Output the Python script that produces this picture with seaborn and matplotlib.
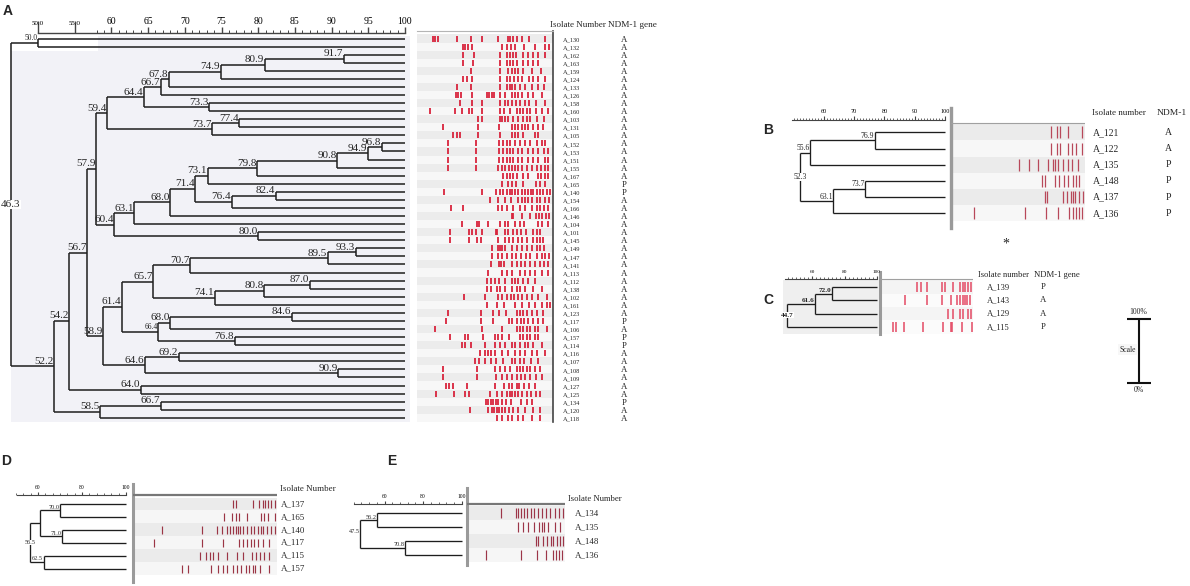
import numpy as np
import pandas as pd
import matplotlib
matplotlib.use("Agg")
import matplotlib.pyplot as plt
from matplotlib.patches import Rectangle
import seaborn as sns

# ---------------- DATA ----------------
# panel A isolates (top to bottom) and NDM-1 gene status
A_ISOLATES = ["A_130", "A_132", "A_162", "A_163", "A_159", "A_124", "A_133", "A_126",
              "A_158", "A_160", "A_103", "A_131", "A_105", "A_152", "A_153", "A_151",
              "A_155", "A_167", "A_165", "A_140", "A_154", "A_166", "A_146", "A_104",
              "A_101", "A_145", "A_149", "A_147", "A_141", "A_113", "A_112", "A_138",
              "A_102", "A_161", "A_123", "A_117", "A_106", "A_157", "A_114", "A_116",
              "A_107", "A_108", "A_109", "A_127", "A_125", "A_134", "A_120", "A_118"]
A_NDM = ["A"] * 18 + ["P", "P"] + ["A"] * 15 + ["P", "A", "P", "P"] + ["A"] * 6 + ["P", "A", "A"]

# dendrogram merges: (node, child, child, % similarity); ints are leaf rows
A_NODES = [
    ("a1", 0, 1, 50.0), ("a2", 2, 3, 91.7), ("a3", "a2", 4, 80.9), ("a4", "a3", 5, 74.9),
    ("a5", "a4", 6, 67.8), ("a6", "a5", 7, 66.7), ("a7", 8, 9, 73.3), ("a8", "a6", "a7", 64.4),
    ("a9", 10, 11, 77.4), ("a10", "a9", 12, 73.7), ("a11", "a8", "a10", 59.4),
    ("a12", 13, 14, 96.8), ("a13", "a12", 15, 94.9), ("a14", "a13", 16, 90.8),
    ("a15", "a14", 17, 79.8), ("a16", "a15", 18, 73.1), ("a17", 19, 20, 82.4),
    ("a18", "a17", 21, 76.4), ("a19", "a16", "a18", 71.4), ("a20", "a19", 22, 68.0),
    ("a21", "a20", 23, 63.1), ("a22", 24, 25, 80.0), ("a23", "a21", "a22", 60.4),
    ("a24", "a11", "a23", 57.9), ("a25", 26, 27, 93.3), ("a26", "a25", 28, 89.5),
    ("a27", "a26", 29, 70.7), ("a28", 30, 31, 87.0), ("a29", "a28", 32, 80.8),
    ("a30", "a29", 33, 74.1), ("a31", "a27", "a30", 65.7), ("a32", 34, 35, 84.6),
    ("a33", "a32", 36, 68.0), ("a34", 37, 38, 76.8), ("a35", "a33", "a34", 66.4),
    ("a36", "a31", "a35", 61.4), ("a37", 39, 40, 69.2), ("a38", 41, 42, 90.9),
    ("a39", "a37", "a38", 64.6), ("a40", "a36", "a39", 58.9), ("a41", "a24", "a40", 56.7),
    ("a42", 43, 44, 64.0), ("a43", "a41", "a42", 54.2), ("a44", 45, 46, 66.7),
    ("a45", "a44", 47, 58.5), ("a46", "a43", "a45", 52.2), ("a47", "a1", "a46", 46.3),
]

# band positions per lane (gel units, left -> right)
A_BANDS = [
    [83, 90, 98, 157, 197, 232, 280, 308, 316, 324, 335, 352, 372, 420],
    [173, 180, 188, 200, 290, 305, 318, 330, 357, 390, 420, 432],
    [175, 208, 285, 305, 315, 325, 332, 355, 370, 385, 400, 420],
    [175, 205, 285, 305, 315, 325, 335, 355, 370, 385, 400],
    [197, 285, 310, 320, 330, 340, 355, 380, 408],
    [175, 185, 200, 285, 305, 315, 328, 340, 352, 373, 385, 398, 420],
    [157, 197, 285, 305, 315, 322, 330, 345, 360, 380, 398, 418],
    [153, 160, 167, 200, 245, 252, 260, 267, 285, 300, 320, 330, 340, 352, 370, 385, 410],
    [165, 200, 230, 285, 300, 310, 320, 333, 345, 360, 372, 392, 420],
    [75, 150, 170, 192, 200, 232, 285, 298, 315, 335, 345, 355, 365, 375, 392, 410, 430],
    [220, 230, 285, 292, 300, 310, 325, 340, 355, 365, 375, 395, 418],
    [113, 220, 283, 320, 330, 340, 350, 360, 370, 385, 400, 415],
    [145, 155, 165, 220, 285, 320, 330, 340, 355, 390, 400],
    [130, 212, 283, 295, 305, 315, 330, 345, 360, 375, 395, 410, 420],
    [130, 212, 283, 295, 305, 315, 325, 340, 352, 370, 385, 400, 418, 428],
    [130, 212, 283, 295, 305, 315, 325, 340, 352, 370, 385, 400, 420, 430],
    [130, 212, 280, 290, 300, 312, 320, 330, 340, 352, 365, 380, 395, 408, 420, 430],
    [295, 305, 315, 325, 335, 355, 370, 398, 408, 420, 430],
    [290, 310, 320, 332, 355, 392, 405, 420],
    [117, 232, 272, 285, 295, 305, 315, 322, 330, 340, 350, 360, 370, 378, 385, 395, 405, 415, 425, 435],
    [255, 280, 300, 318, 340, 350, 360, 370, 380, 395, 405, 420, 432],
    [138, 175, 280, 290, 305, 325, 345, 360, 380, 395, 405, 418, 428],
    [320, 325, 350, 375, 392, 402, 412, 422, 432],
    [172, 215, 222, 250, 285, 300, 310, 330, 345, 358, 400, 410, 428],
    [135, 192, 202, 212, 230, 272, 275, 300, 310, 325, 335, 348, 362, 385, 395, 405],
    [135, 192, 215, 228, 278, 300, 313, 325, 340, 350, 365, 385, 395, 405, 415],
    [260, 280, 285, 292, 300, 320, 335, 350, 365, 380, 395, 405, 418],
    [260, 280, 292, 305, 320, 333, 348, 362, 375, 395, 410, 420, 432],
    [258, 282, 288, 298, 320, 335, 348, 360, 375, 390, 405, 418, 430],
    [250, 290, 305, 322, 345, 360, 375, 390, 410, 430],
    [245, 258, 270, 283, 300, 322, 330, 340, 355, 370, 390],
    [245, 258, 275, 285, 300, 320, 335, 345, 360, 385, 410],
    [177, 240, 278, 290, 305, 318, 328, 340, 350, 365, 382, 400, 425],
    [245, 275, 298, 330, 350, 372, 390, 410, 425, 435],
    [128, 228, 265, 283, 303, 335, 345, 355, 365, 380, 395, 415],
    [122, 228, 265, 312, 322, 335, 348, 358, 370, 385, 400, 415],
    [90, 230, 292, 335, 345, 355, 365, 375, 390, 400, 425],
    [135, 180, 190, 235, 270, 280, 292, 312, 345, 355, 365, 375, 390, 400],
    [170, 180, 197, 240, 270, 285, 300, 320, 330, 345, 360, 370, 385, 410],
    [225, 240, 248, 258, 270, 290, 308, 330, 345, 360, 380, 395, 420],
    [210, 222, 240, 258, 272, 295, 320, 330, 345, 358, 378, 400],
    [115, 215, 270, 285, 300, 315, 335, 345, 355, 365, 375, 390, 405],
    [115, 215, 272, 292, 305, 320, 335, 348, 360, 375, 392, 410],
    [122, 133, 145, 185, 270, 298, 312, 320, 335, 342, 358, 372, 390],
    [92, 148, 180, 192, 255, 275, 290, 305, 315, 322, 330, 340, 350, 365, 378, 392, 405],
    [242, 250, 258, 265, 272, 280, 292, 302, 318, 348, 365, 380],
    [195, 248, 260, 268, 275, 282, 290, 300, 312, 325, 340, 360, 385, 405],
    [275, 290, 308, 322, 338, 355, 380, 405],
]

B_ISOLATES = ["A_121", "A_122", "A_135", "A_148", "A_137", "A_136"]
B_NDM = ["A", "A", "P", "P", "P", "P"]
B_NODES = [("b1", 0, 1, 76.9), ("b2", "b1", 2, 55.6), ("b3", 3, 4, 73.7),
           ("b4", "b3", 5, 63.1), ("b5", "b2", "b4", 52.3)]
B_BANDS = [
    [783, 800, 810, 835, 876],
    [783, 800, 810, 833, 845, 858, 876],
    [688, 717, 745, 773, 788, 795, 803, 820, 835, 845, 865],
    [757, 765, 795, 808, 822, 835, 848, 858, 868],
    [765, 772, 818, 830, 842, 848, 855, 868, 878],
    [553, 705, 768, 805, 838, 848, 858, 868, 876],
]

C_ISOLATES = ["A_139", "A_143", "A_129", "A_115"]
C_NDM = ["P", "A", "A", "P"]
C_NODES = [("c1", 0, 1, 72.0), ("c2", "c1", 2, 61.6), ("c3", "c2", 3, 44.7)]
C_BANDS = [
    [410, 422, 440, 485, 495, 518, 540, 548, 555, 565, 572],
    [375, 440, 485, 512, 532, 540, 548, 555, 562, 570],
    [505, 518, 540, 550, 565, 572],
    [340, 348, 372, 428, 490, 512, 515, 545, 575],
]

D_ISOLATES = ["A_137", "A_165", "A_140", "A_117", "A_115", "A_157"]
D_NODES = [("d1", 0, 1, 70.0), ("d2", 2, 3, 71.0), ("d3", "d1", "d2", 60.9),
           ("d4", 4, 5, 62.5), ("d5", "d3", "d4", 56.5)]
D_BANDS = [
    [698, 708, 760, 778, 788, 795, 803, 813, 825],
    [672, 697, 708, 718, 740, 783, 793, 805, 825],
    [487, 605, 650, 665, 680, 690, 700, 708, 713, 720, 728, 740, 752, 763, 773, 782, 790, 800, 812, 825],
    [462, 605, 670, 718, 730, 740, 752, 762, 775, 790, 808],
    [601, 618, 630, 640, 655, 680, 710, 728, 755, 768, 780, 792, 808],
    [545, 565, 633, 655, 668, 682, 700, 712, 722, 738, 748, 758, 765, 780, 808],
]

E_ISOLATES = ["A_134", "A_135", "A_148", "A_136"]
E_NODES = [("e1", 0, 1, 56.2), ("e2", 2, 3, 70.8), ("e3", "e1", "e2", 47.5)]
E_BANDS = [
    [497, 543, 550, 558, 567, 577, 588, 598, 610, 622, 632, 645, 660, 672, 685],
    [548, 565, 580, 598, 612, 620, 628, 640, 660, 675],
    [603, 610, 625, 637, 647, 655, 665, 675, 685],
    [453, 558, 607, 633, 655, 663, 672, 680],
]

SCALE_TICKS = [0, 100]

# ---------------- STYLE / HELPERS ----------------
W, H = 1190, 586
INK = "#1e1e1e"
SERIF = ["Liberation Serif", "DejaVu Serif"]
SANS = ["Liberation Sans", "DejaVu Sans"]

sns.set_theme(style="white")
plt.rcParams["font.family"] = SERIF

fig = plt.figure(figsize=(W / 100, H / 100), dpi=100)


def px_axes(x0, y0, x1, y1, z=1):
    ax = fig.add_axes([x0 / W, 1 - y1 / H, (x1 - x0) / W, (y1 - y0) / H], zorder=z)
    ax.set_facecolor("none")
    for s in ax.spines.values():
        s.set_visible(False)
    ax.set_xticks([])
    ax.set_yticks([])
    return ax


def ftext(x, y, s, **kw):
    kw.setdefault("va", "center")
    fig.text(x / W, 1 - y / H, s, **kw)


def row_ylim(y0, y1, row0, step):
    return (y1 - row0) / step, (y0 - row0) / step


def tree_axes(x0, y0, x1, y1, px100, k, row0, step):
    ax = px_axes(x0, y0, x1, y1, z=2)
    ax.set_xlim(100 + (x0 - px100) / k, 100 + (x1 - px100) / k)
    ax.set_ylim(*row_ylim(y0, y1, row0, step))
    return ax


def draw_tree(ax, nodes, n_leaves, lw, fs, root="center", small=(), hidden=(), weight="normal"):
    pos = {i: (100.0, float(i)) for i in range(n_leaves)}
    for name, a, b, sim in nodes:
        pos[name] = (sim, (pos[a][1] + pos[b][1]) / 2)
    for name, a, b, sim in nodes:
        ya, yb = pos[a][1], pos[b][1]
        ax.vlines(sim, ya, yb, color=INK, lw=lw)
        ax.hlines([ya, yb], sim, [pos[a][0], pos[b][0]], color=INK, lw=lw)
    root_name = nodes[-1][0]
    for name, a, b, sim in nodes:
        if name in hidden:
            continue
        x, y = pos[name]
        size = fs * 0.68 if name in small else fs
        if name == root_name and root == "center":
            ax.text(x, y, f"{sim:.1f}", ha="center", va="center", fontsize=size,
                    weight=weight, bbox=dict(fc="white", ec="none", pad=0.2), zorder=5)
        else:
            ax.annotate(f"{sim:.1f}", (x, y), xytext=(-0.4, 0.4), textcoords="offset points",
                        ha="right", va="bottom", fontsize=size, weight=weight)


def ruler(x0, x1, y, px100, k, bounds, majors, labels, minors, fs, mlen, nlen,
          color="#444", lw=0.9):
    ax = px_axes(x0, y, x1, y + 1, z=3)
    ax.set_xlim(100 + (x0 - px100) / k, 100 + (x1 - px100) / k)
    ax.spines["top"].set_visible(True)
    ax.spines["top"].set_color(color)
    ax.spines["top"].set_linewidth(lw)
    ax.spines["top"].set_bounds(*bounds)
    ax.set_xticks(majors, labels)
    ax.set_xticks(minors, minor=True)
    ax.tick_params(axis="x", which="both", top=True, labeltop=True, bottom=False,
                   labelbottom=False, direction="out", colors=color, labelcolor="black")
    ax.tick_params(axis="x", which="major", length=mlen, width=lw, labelsize=fs, pad=1)
    ax.tick_params(axis="x", which="minor", length=nlen, width=lw * 0.7)
    return ax


def gel(x0, y0, x1, y1, off, row0, step, bands, color, s, lw,
        lanes=("#ebebeb", "#f6f6f6"), header=None, bar=None, right=None, top=None):
    ax = px_axes(x0, y0, x1, y1)
    xlim = ((x0 - off) * 3, (x1 - off) * 3)
    ylim = row_ylim(y0, y1, row0, step)
    idx = np.arange(len(bands))
    ax.barh(idx, xlim[1] - xlim[0], left=xlim[0], height=1.0,
            color=[lanes[i % 2] for i in idx], linewidth=0, zorder=0)
    df = pd.DataFrame({"lane": [i for i, b in enumerate(bands) for _ in b],
                       "pos": [p for b in bands for p in b]})
    sns.scatterplot(data=df, x="pos", y="lane", marker="|", s=s, linewidth=lw,
                    color=color, legend=False, ax=ax, zorder=3)
    ax.set(xlim=xlim, ylim=ylim, xlabel="", ylabel="", xticks=[], yticks=[])
    if header is not None:
        hy, hc, hw = header
        ax.axhline((hy - row0) / step, color=hc, lw=hw, zorder=4)
    for side, spec in (("left", bar), ("right", right), ("top", top)):
        if spec is not None:
            ax.spines[side].set_visible(True)
            ax.spines[side].set_color(spec[0])
            ax.spines[side].set_linewidth(spec[1])
    return ax


# ---------------- PANEL A ----------------
A_ROW0, A_STEP = 38.5, 8.07
ax = tree_axes(5, 33, 410, 422, 405, 7.34, A_ROW0, A_STEP)
ax.add_patch(Rectangle((46.3, 1.6), 54.4, 45.9, fc="#f2f2f7", ec="none", zorder=0))
ax.add_patch(Rectangle((58.2, -0.35), 42.5, 1.95, fc="#f2f2f7", ec="none", zorder=0))
draw_tree(ax, A_NODES, len(A_ISOLATES), lw=1.1, fs=8, small=("a1", "a35"))

rl = ruler(5, 410, 33, 405, 7.34, (50, 100), [50, 55] + list(range(60, 101, 5)),
           ["50.0", "55.0"] + [str(v) for v in range(60, 101, 5)],
           np.arange(58, 100, 1), fs=7, mlen=4, nlen=2, lw=1.0)
for t, lab in zip(rl.xaxis.get_major_ticks()[:2], rl.get_xticklabels()[:2]):
    t.tick2line.set_markersize(9)
    lab.set_fontsize(5)

gel(417, 31, 553, 422, 405, A_ROW0, A_STEP, A_BANDS, "#d8243c", s=20, lw=1.3,
    lanes=("#ececec", "#f7f7f7"), right=("#444", 1.2), top=("#b5b5b5", 0.8))

ftext(8, 11, "A", fontsize=10, weight="bold", family=SANS, ha="center")
ftext(550, 25, "Isolate Number", fontsize=6.5)
ftext(608, 25, "NDM-1 gene", fontsize=6.7)
for i, (iso, ndm) in enumerate(zip(A_ISOLATES, A_NDM)):
    y = A_ROW0 + 1 + A_STEP * i
    ftext(563, y, iso, fontsize=4.6)
    ftext(624, y, ndm, fontsize=6.3, ha="center")

# ---------------- PANEL B ----------------
B_ROW0, B_STEP = 132.3, 16.2
ax = tree_axes(790, 120, 948, 228, 945, 3.03, B_ROW0, B_STEP)
draw_tree(ax, B_NODES, len(B_ISOLATES), lw=0.95, fs=5.5)
ruler(790, 948, 120, 945, 3.03, (49.5, 100), [60, 70, 80, 90, 100],
      ["60", "70", "80", "90", "100"], np.arange(50, 100, 1), fs=4.5, mlen=3, nlen=1.5, lw=0.8)
gel(951, 108, 1085, 228, 790, B_ROW0, B_STEP, B_BANDS, "#b8485a", s=72, lw=0.9,
    lanes=("#ebebeb", "#f7f7f7"), header=(123, "#a0a0a0", 0.8), bar=("#9a9a9a", 2.4))
ftext(768, 130, "B", fontsize=10, weight="bold", family=SANS, ha="center")
ftext(1092, 113, "Isolate number", fontsize=6.5)
ftext(1157, 113, "NDM-1", fontsize=6.8)
for i, (iso, ndm) in enumerate(zip(B_ISOLATES, B_NDM)):
    y = B_ROW0 + B_STEP * i
    ftext(1093, y, iso, fontsize=7)
    ftext(1168, y, ndm, fontsize=7, ha="center")
ftext(1006, 244, "*", fontsize=10, ha="center")

# ---------------- PANEL C ----------------
C_ROW0, C_STEP = 287, 13.3
ax = tree_axes(783, 280, 879, 334, 877, 1.625, C_ROW0, C_STEP)
ax.add_patch(Rectangle((0, 0), 1, 1, transform=ax.transAxes, fc="#efefef", ec="none", zorder=0))
draw_tree(ax, C_NODES, len(C_ISOLATES), lw=0.95, fs=5.2, weight="bold")
ruler(783, 879, 279.3, 877, 1.625, (43.5, 100), [60, 80, 100], ["60", "80", "100"],
      np.arange(45, 100, 2.5), fs=3.8, mlen=2.5, nlen=1.3, lw=0.8)
gel(880, 272, 973, 334, 780, C_ROW0, C_STEP, C_BANDS, "#e44a64", s=55, lw=1.1,
    lanes=("#f4f4f4", "#fbfbfb"), header=(279.3, "#a0a0a0", 0.8), bar=("#9a9a9a", 2.2))
ftext(768, 300, "C", fontsize=10, weight="bold", family=SANS, ha="center")
ftext(978, 275, "Isolate number", fontsize=6.1)
ftext(1034, 275, "NDM-1 gene", fontsize=6.2)
for i, (iso, ndm) in enumerate(zip(C_ISOLATES, C_NDM)):
    y = C_ROW0 + C_STEP * i
    ftext(987, y, iso, fontsize=6.1)
    ftext(1043, y, ndm, fontsize=6.3, ha="center")

# scale bar next to C
sc = px_axes(1110, 300, 1170, 400, z=2)
sc.set_xlim(1110, 1170)
sc.set_ylim((383 - 400) / 0.64, (383 - 300) / 0.64)
sc.vlines(1138.5, SCALE_TICKS[0], SCALE_TICKS[1], color="#111", lw=1.5)
sc.hlines(SCALE_TICKS, 1127, 1151, color="#111", lw=1.5)
sc.text(1138.5, SCALE_TICKS[1] + 4, "100%", ha="center", va="bottom", fontsize=5.6)
sc.text(1138.5, SCALE_TICKS[0] - 4, "0%", ha="center", va="top", fontsize=5.6)
sc.text(1128, 52, "Scale", ha="center", va="center", fontsize=5.5,
        bbox=dict(fc="#f7f7f7", ec="none", pad=1.0))

# ---------------- PANEL D ----------------
D_ROW0, D_STEP = 504, 12.9
ax = tree_axes(15, 495, 128, 582, 126, 2.2, D_ROW0, D_STEP)
draw_tree(ax, D_NODES, len(D_ISOLATES), lw=0.95, fs=4.5, hidden=("d3",))
ruler(15, 128, 495, 126, 2.2, (50.5, 100), [60, 80, 100], ["60", "80", "100"],
      np.arange(50, 100.1, 20 / 6), fs=4, mlen=2.5, nlen=1.3, lw=0.8)
gel(133, 484, 277, 582, 0, D_ROW0, D_STEP, D_BANDS, "#9b3545", s=40, lw=0.85,
    lanes=("#ebebeb", "#f6f6f6"), header=(495, "#777", 1.6), bar=("#9a9a9a", 2.2))
ftext(6, 461, "D", fontsize=10, weight="bold", family=SANS, ha="center")
ftext(280, 489, "Isolate Number", fontsize=6.4)
for i, iso in enumerate(D_ISOLATES):
    ftext(281, D_ROW0 + D_STEP * i, iso, fontsize=6.4)

# ---------------- PANEL E ----------------
E_ROW0, E_STEP = 513.3, 13.9
ax = tree_axes(351, 504, 463, 565, 461.7, 1.93, E_ROW0, E_STEP)
draw_tree(ax, E_NODES, len(E_ISOLATES), lw=0.95, fs=4.5, root="left")
ruler(351, 463, 504.3, 461.7, 1.93, (44, 100), [60, 80, 100], ["60", "80", "100"],
      np.arange(44, 100.1, 4), fs=4, mlen=2.5, nlen=1.3, lw=0.8)
gel(467, 488, 565, 565, 335, E_ROW0, E_STEP, E_BANDS, "#9c3548", s=50, lw=0.85,
    lanes=("#ebebeb", "#f6f6f6"), header=(504.3, "#777", 1.6), bar=("#9a9a9a", 2.2))
ftext(392, 461, "E", fontsize=10, weight="bold", family=SANS, ha="center")
ftext(568, 499, "Isolate Number", fontsize=6.2)
for i, iso in enumerate(E_ISOLATES):
    ftext(575, E_ROW0 + E_STEP * i, iso, fontsize=6.4)

fig.savefig("out.png", dpi=100)
